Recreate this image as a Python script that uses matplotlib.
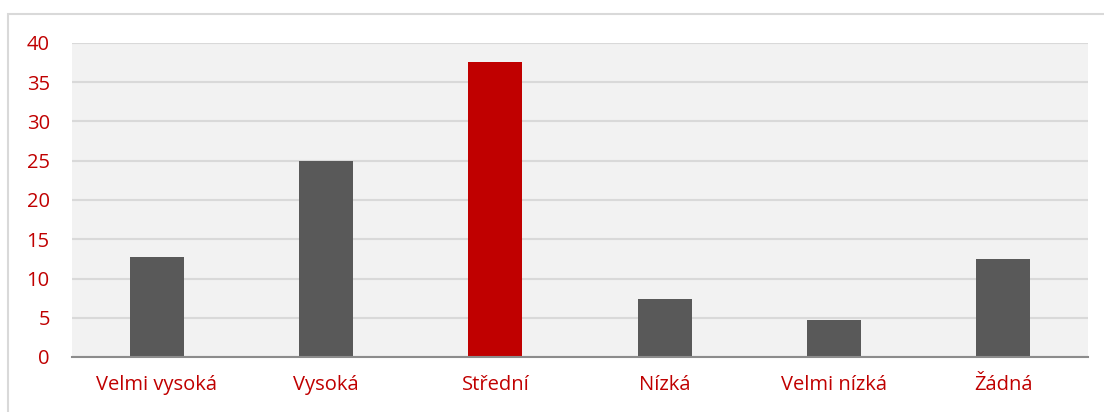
import matplotlib

matplotlib.use("Agg")
import matplotlib.pyplot as plt
from matplotlib.patches import Rectangle

categories = ["Velmi vysoká", "Vysoká", "Střední", "Nízká", "Velmi nízká", "Žádná"]
values = [12.8, 25.0, 37.6, 7.4, 4.7, 12.5]
highlight = "Střední"
y_ticks = [0, 5, 10, 15, 20, 25, 30, 35, 40]

GRAY = "#595959"
RED = "#C00000"

plt.rcParams["font.family"] = ["Open Sans", "DejaVu Sans"]

fig = plt.figure(figsize=(11.04, 4.12), dpi=100)
fig.patches.append(
    Rectangle((8 / 1104, -0.1), 1.2, 1 - 14 / 412 + 0.1, transform=fig.transFigure,
              fill=False, edgecolor="#D9D9D9", linewidth=1.5)
)

ax = fig.add_axes([72 / 1104, 1 - 357 / 412, (1088 - 72) / 1104, (357 - 43) / 412])
ax.set_facecolor("#F2F2F2")

colors = [RED if c == highlight else GRAY for c in categories]
ax.bar(range(len(categories)), values, width=0.32, color=colors, zorder=3)

ax.set_xlim(-0.5, len(categories) - 0.5)
ax.set_ylim(0, 40)
ax.set_yticks(y_ticks)
ax.set_xticks(range(len(categories)))
ax.set_xticklabels(categories)
ax.yaxis.grid(True, color="#D9D9D9", linewidth=1.5, zorder=1)
ax.set_axisbelow(True)

for side in ["top", "right", "left"]:
    ax.spines[side].set_visible(False)
ax.spines["bottom"].set_color("#8C8C8C")
ax.spines["bottom"].set_linewidth(1.5)
ax.spines["bottom"].set_zorder(4)

ax.tick_params(axis="both", length=0, labelcolor=RED, labelsize=14.5)
ax.tick_params(axis="y", pad=16)
ax.tick_params(axis="x", pad=13)

fig.savefig("out.png", dpi=100)
